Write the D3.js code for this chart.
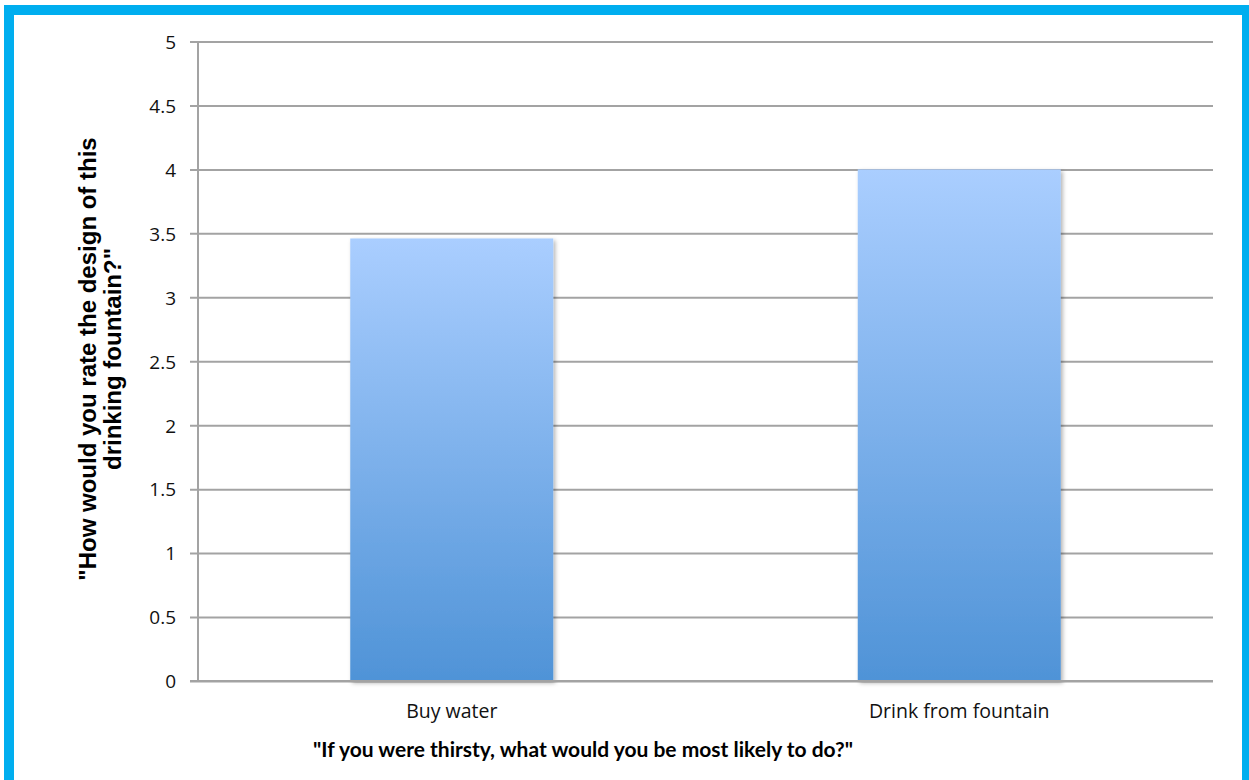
<!DOCTYPE html>
<html>
<head>
<meta charset="utf-8">
<script src="https://cdn.jsdelivr.net/npm/d3@7"></script>
<style>
html,body{margin:0;padding:0;background:#fff;}
svg{display:block;}
</style>
</head>
<body>
<svg id="chart" width="1249" height="780"></svg>
<script>
const categories = ["Buy water", "Drink from fountain"];
const values = [3.46, 4.0];
const yTicks = [0, 0.5, 1, 1.5, 2, 2.5, 3, 3.5, 4, 4.5, 5];
const yTitleLines = ["\"How would you rate the design of this", "drinking fountain?\""];
const xTitle = "\"If you were thirsty, what would you be most likely to do?\"";

const W = 1249, H = 780;
const m = {left: 198, right: 1213, top: 41.5, bottom: 681};
const svg = d3.select("#chart");

// outer blue frame
svg.append("rect").attr("x", 4).attr("y", 5).attr("width", 1245).attr("height", 780)
  .attr("fill", "#00AEEF");
svg.append("rect").attr("x", 14).attr("y", 15).attr("width", 1228).attr("height", 780)
  .attr("fill", "#ffffff");

const defs = svg.append("defs");
const grad = defs.append("linearGradient").attr("id", "barGrad")
  .attr("x1", 0).attr("y1", 0).attr("x2", 0).attr("y2", 1);
grad.append("stop").attr("offset", "0%").attr("stop-color", "#AACEFF");
grad.append("stop").attr("offset", "100%").attr("stop-color", "#4F93D7");
const f = defs.append("filter").attr("id", "shadow").attr("x", "-10%").attr("y", "-10%")
  .attr("width", "130%").attr("height", "130%");
f.append("feDropShadow").attr("dx", 2).attr("dy", 2).attr("stdDeviation", 2)
  .attr("flood-color", "#000").attr("flood-opacity", 0.3);

const x = d3.scaleBand().domain(categories).range([m.left, m.right])
  .paddingInner(0.6).paddingOuter(0.3);
const y = d3.scaleLinear().domain([0, 5]).range([m.bottom, m.top]);

// gridlines + ticks
const yAxis = d3.axisLeft(y).tickValues(yTicks).tickSize(-(m.right - m.left)).tickPadding(22)
  .tickFormat(d => String(d));
const gy = svg.append("g").attr("transform", `translate(${m.left},0)`).call(yAxis);
gy.select(".domain").remove();
gy.selectAll(".tick line").attr("stroke", "#A3A3A3").attr("stroke-width", 2)
  .attr("x1", -8);
gy.selectAll(".tick text").attr("font-family", "'Open Sans', sans-serif")
  .attr("font-size", 19).attr("fill", "#111").attr("dy", "0.36em");

// y axis line
svg.append("line").attr("x1", m.left).attr("x2", m.left).attr("y1", m.top).attr("y2", m.bottom)
  .attr("stroke", "#A3A3A3").attr("stroke-width", 2);

// bars
svg.append("g").selectAll("rect").data(categories).join("rect")
  .attr("x", d => x(d)).attr("width", x.bandwidth())
  .attr("y", (d, i) => y(values[i])).attr("height", (d, i) => y(0) - y(values[i]))
  .attr("fill", "url(#barGrad)").attr("filter", "url(#shadow)");

// baseline on top
svg.append("line").attr("x1", m.left - 8).attr("x2", m.right).attr("y1", y(0)).attr("y2", y(0))
  .attr("stroke", "#A3A3A3").attr("stroke-width", 2);

// x labels
const xAxis = d3.axisBottom(x).tickSize(0).tickPadding(23);
const gx = svg.append("g").attr("transform", `translate(0,${m.bottom})`).call(xAxis);
gx.select(".domain").remove();
gx.selectAll(".tick text").attr("font-family", "'Open Sans', sans-serif")
  .attr("font-size", 19.5).attr("fill", "#111");

// x title
svg.append("text").attr("x", 583).attr("y", 757).attr("text-anchor", "middle")
  .attr("font-family", "Lato, 'Open Sans', sans-serif").attr("font-weight", "bold")
  .attr("font-size", 21).attr("fill", "#000").text(xTitle);

// y title
const yt = svg.append("text").attr("transform", "translate(0,359) rotate(-90)")
  .attr("text-anchor", "middle").attr("font-family", "'Liberation Sans', Arial, sans-serif")
  .attr("font-weight", "bold").attr("font-size", 24).attr("fill", "#000");
yTitleLines.forEach((l, i) => {
  yt.append("tspan").attr("x", 0).attr("y", 96 + i * 25).text(l);
});
</script>
</body>
</html>
